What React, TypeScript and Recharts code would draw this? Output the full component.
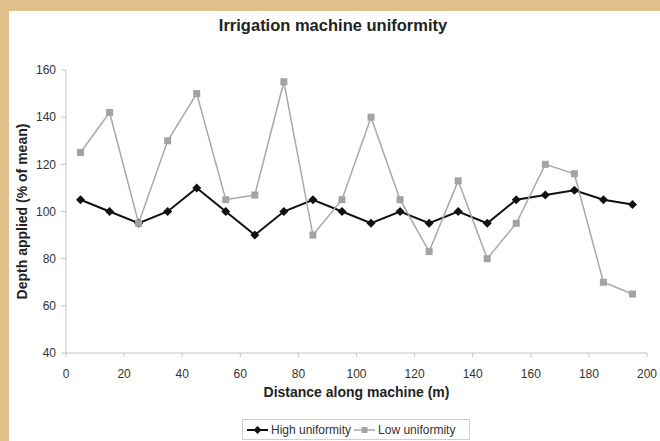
import { LineChart, Line, XAxis, YAxis } from "recharts"

// distance along the machine (m) where each catch can sits
const distance = [5, 15, 25, 35, 45, 55, 65, 75, 85, 95, 105, 115, 125, 135, 145, 155, 165, 175, 185, 195]
const highUniformity = [105, 100, 95, 100, 110, 100, 90, 100, 105, 100, 95, 100, 95, 100, 95, 105, 107, 109, 105, 103]
const lowUniformity = [125, 142, 95, 130, 150, 105, 107, 155, 90, 105, 140, 105, 83, 113, 80, 95, 120, 116, 70, 65]
const xTicks = [0, 20, 40, 60, 80, 100, 120, 140, 160, 180, 200]
const yTicks = [40, 60, 80, 100, 120, 140, 160]

const data = distance.map((d, i) => ({ distance: d, high: highUniformity[i], low: lowUniformity[i] }))

const font = "'Liberation Sans', Arial, sans-serif"

const Diamond = (props: any) => {
  const { cx, cy, index } = props
  if (cx == null || cy == null) return null
  const r = 4.5
  return <path key={`hd-${index}`} d={`M${cx},${cy - r}L${cx + r},${cy}L${cx},${cy + r}L${cx - r},${cy}Z`} fill="#111" />
}

const Square = (props: any) => {
  const { cx, cy, index } = props
  if (cx == null || cy == null) return null
  return <rect key={`ls-${index}`} x={cx - 3.5} y={cy - 3.5} width={7} height={7} fill="#a3a3a3" />
}

function LegendBox() {
  return (
    <div
      style={{
        position: "absolute",
        left: 242,
        top: 419,
        width: 226,
        height: 19,
        border: "1px solid #cfcfcf",
        background: "#fff",
        display: "flex",
        alignItems: "center",
        fontFamily: font,
        fontSize: 12,
        color: "#333",
      }}
    >
      <svg width={21} height={10} style={{ marginLeft: 4, marginRight: 3 }}>
        <line x1={0} y1={5} x2={21} y2={5} stroke="#111" strokeWidth={2} />
        <path d="M10.5,1L14.5,5L10.5,9L6.5,5Z" fill="#111" />
      </svg>
      <span>High uniformity</span>
      <svg width={21} height={10} style={{ marginLeft: 3, marginRight: 3 }}>
        <line x1={0} y1={5} x2={21} y2={5} stroke="#a8a8a8" strokeWidth={1.5} />
        <rect x={7.5} y={2} width={6} height={6} fill="#a3a3a3" />
      </svg>
      <span>Low uniformity</span>
    </div>
  )
}

export default function App() {
  return (
    <div style={{ position: "absolute", left: 0, top: 0, width: 660, height: 441, background: "#e0c08c", overflow: "hidden" }}>
      <div style={{ position: "absolute", left: 9, top: 11, width: 651, height: 430, background: "#fff" }} />
      <div
        style={{
          position: "absolute",
          left: 0,
          top: 16,
          width: 666,
          textAlign: "center",
          fontFamily: font,
          fontWeight: "bold",
          fontSize: 16.5,
          color: "#222",
        }}
      >
        Irrigation machine uniformity
      </div>
      <div style={{ position: "absolute", left: 0, top: 0 }}>
        <LineChart width={660} height={441} data={data} margin={{ top: 70, right: 13, left: 10, bottom: 48 }}>
          <XAxis
            dataKey="distance"
            type="number"
            domain={[0, 200]}
            ticks={xTicks}
            interval={0}
            height={40}
            stroke="#c4c4c4"
            tickSize={4}
            tickMargin={12}
            tick={{ fill: "#333", fontSize: 12, fontFamily: font }}
            label={{
              value: "Distance along machine (m)",
              position: "insideTop",
              offset: 34,
              fill: "#222",
              fontSize: 14,
              fontWeight: "bold",
              fontFamily: font,
            }}
          />
          <YAxis
            type="number"
            domain={[40, 160]}
            ticks={yTicks}
            interval={0}
            width={56}
            stroke="#c4c4c4"
            tickSize={5}
            tickMargin={5}
            tick={{ fill: "#333", fontSize: 12, fontFamily: font }}
            label={{
              value: "Depth applied (% of mean)",
              angle: -90,
              position: "insideLeft",
              offset: 12,
              textAnchor: "middle",
              fill: "#222",
              fontSize: 14,
              fontWeight: "bold",
              fontFamily: font,
            }}
          />
          <Line
            dataKey="high"
            stroke="#111"
            strokeWidth={2}
            dot={Diamond}
            activeDot={false}
            isAnimationActive={false}
          />
          <Line
            dataKey="low"
            stroke="#a8a8a8"
            strokeWidth={1.5}
            dot={Square}
            activeDot={false}
            isAnimationActive={false}
          />
        </LineChart>
      </div>
      <LegendBox />
    </div>
  )
}
